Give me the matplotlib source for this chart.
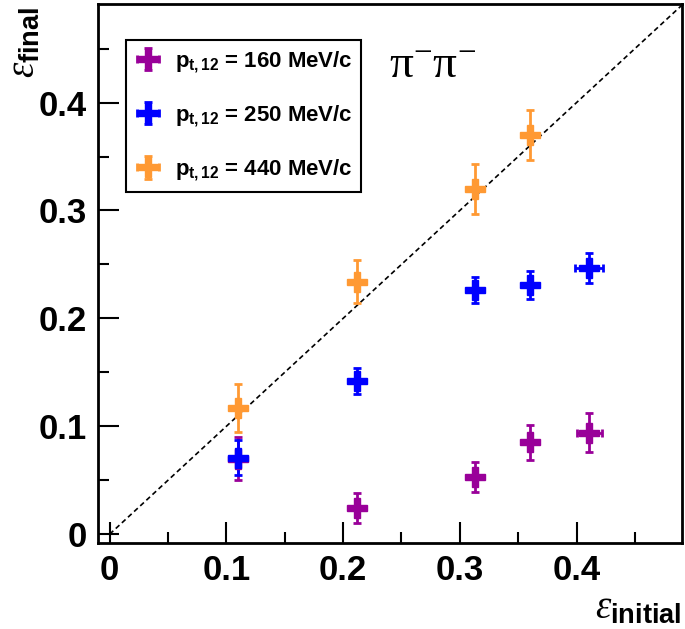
import numpy as np
import matplotlib.pyplot as plt
from matplotlib.ticker import MultipleLocator

plt.rcParams['font.family'] = ['Liberation Sans', 'DejaVu Sans']
plt.rcParams['mathtext.fontset'] = 'custom'
plt.rcParams['mathtext.rm'] = 'Liberation Serif'
plt.rcParams['mathtext.it'] = 'Liberation Serif:italic'
plt.rcParams['mathtext.bf'] = 'Liberation Sans:bold'
plt.rcParams['mathtext.sf'] = 'Liberation Sans'

# eps_initial values for each series
x_160 = [0.110, 0.212, 0.313, 0.360, 0.411]
y_160 = [0.070, 0.024, 0.053, 0.085, 0.094]
ey_160 = [0.020, 0.014, 0.014, 0.016, 0.018]

x_250 = [0.110, 0.212, 0.313, 0.360, 0.411]
y_250 = [0.071, 0.142, 0.226, 0.231, 0.247]
ey_250 = [0.016, 0.012, 0.012, 0.013, 0.014]

x_440 = [0.110, 0.212, 0.313, 0.360]
y_440 = [0.117, 0.234, 0.320, 0.370]
ey_440 = [0.022, 0.020, 0.023, 0.023]

# only the last points have visible horizontal errors
ex_160 = [0, 0, 0, 0, 0.011]
ex_250 = [0, 0, 0, 0, 0.012]
ex_440 = [0, 0, 0, 0]

labels = [r'$\mathbf{p}_{\mathbf{t,12}}$ = 160 MeV/c',
          r'$\mathbf{p}_{\mathbf{t,12}}$ = 250 MeV/c',
          r'$\mathbf{p}_{\mathbf{t,12}}$ = 440 MeV/c']
colors = ['#990099', '#0000ff', '#ff9933']

fig = plt.figure(figsize=(6.85, 6.29), dpi=100)
ax = fig.add_axes([0.143, 0.137, 0.852, 0.856])

xmin, xmax = -0.010, 0.490
ymin, ymax = -0.008, 0.491

# diagonal y = x
ax.plot([0, xmax], [0, xmax], ls=(0, (3, 2)), color='black', lw=1.2, zorder=1)

series = [(x_160, y_160, ex_160, ey_160), (x_250, y_250, ex_250, ey_250),
          (x_440, y_440, ex_440, ey_440)]
handles = []
for (xs, ys, ex, ey), c, lab in zip(series, colors, labels):
    h = ax.errorbar(xs, ys, xerr=ex, yerr=ey, fmt='P', color=c, ms=14,
                    mec=c, elinewidth=2, capsize=3, capthick=2, label=lab,
                    zorder=3)
    handles.append(h)

ax.set_xlim(xmin, xmax)
ax.set_ylim(ymin, ymax)

ax.xaxis.set_minor_locator(MultipleLocator(0.05))
ax.yaxis.set_minor_locator(MultipleLocator(0.05))
ax.set_xticks([0, 0.1, 0.2, 0.3, 0.4])
ax.set_xticklabels(['0', '0.1', '0.2', '0.3', '0.4'])
ax.set_yticks([0, 0.1, 0.2, 0.3, 0.4])
ax.set_yticklabels(['0', '0.1', '0.2', '0.3', '0.4'])
ax.tick_params(which='major', direction='in', length=15, width=1.5,
               labelsize=25, pad=8)
ax.tick_params(which='minor', direction='in', length=8, width=1.5)
for lab in ax.get_xticklabels() + ax.get_yticklabels():
    lab.set_fontweight('bold')
for s in ax.spines.values():
    s.set_linewidth(2)

fig.text(0.035, 0.99, r'$\varepsilon_{\mathbf{final}}$', rotation=90,
         fontsize=28, ha='center', va='top')
fig.text(0.995, 0.005, r'$\varepsilon_{\mathbf{initial}}$',
         fontsize=28, ha='right', va='bottom')

fig.text(0.632, 0.895, r'$\mathrm{\pi^{-}\pi^{-}}$',
         fontsize=34, ha='center', va='center')

leg = ax.legend(handles=handles, loc='upper left',
                bbox_to_anchor=(0.048, 0.933), borderaxespad=0,
                prop={'weight': 'bold', 'size': 16}, labelspacing=1.3,
                borderpad=0.4, handletextpad=0.6, handlelength=1.2,
                fancybox=False, edgecolor='black', framealpha=1)
leg.get_frame().set_linewidth(1.5)

fig.savefig('out.png', dpi=100)
